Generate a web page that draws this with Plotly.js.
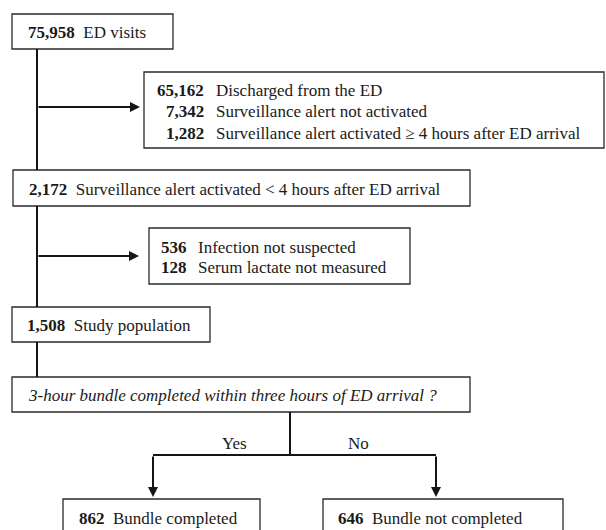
<!DOCTYPE html>
<html>
<head>
<meta charset="utf-8">
<script src="https://cdn.plot.ly/plotly-3.0.1.min.js"></script>
<style>html,body{margin:0;padding:0;background:#fff;}#chart{width:606px;height:530px;}</style>
</head>
<body>
<div id="chart"></div>
<script>
// ---- Data (text content of the flow diagram) ----
const stageCounts = ['75,958', '2,172', '1,508'];
const stageLabels = ['ED visits', 'Surveillance alert activated < 4 hours after ED arrival', 'Study population'];
const exclusion1Counts = ['65,162', '7,342', '1,282'];
const exclusion1Labels = ['Discharged from the ED', 'Surveillance alert not activated', 'Surveillance alert activated \u2265 4 hours after ED arrival'];
const exclusion2Counts = ['536', '128'];
const exclusion2Labels = ['Infection not suspected', 'Serum lactate not measured'];
const questionText = '3-hour bundle completed within three hours of ED arrival ?';
const branchLabels = ['Yes', 'No'];
const outcomeCounts = ['862', '646'];
const outcomeLabels = ['Bundle completed', 'Bundle not completed'];

// ---- Layout geometry (pixel-like coordinates, y downwards) ----
const FONT = {family: '"Liberation Serif", "Times New Roman", serif', size: 17, color: '#1a1a1a'};
const BOX_LINE = {color: '#2a2a2a', width: 1.3};
const CONN_LINE = {color: '#151515', width: 2};

const stageBoxes = [[12, 14, 173, 49], [13, 170, 470, 206], [12, 307, 210, 342]];
const stageTextPos = [[26, 32], [27, 189], [25, 325]];
const excl1Box = [144, 72, 604, 148];
const excl1NumRight = 206, excl1LabelLeft = 214, excl1Ys = [90, 111.5, 133];
const excl2Box = [149, 228, 410, 284];
const excl2NumRight = 189, excl2LabelLeft = 196, excl2Ys = [247, 267];
const questionBox = [12, 377, 470, 412];
const questionPos = [26, 395.5];
const outcomeBoxes = [[63, 499, 260, 545], [323, 499, 563, 545]];
const outcomeTextPos = [[77, 518], [336, 518]];
const branchPos = [[234, 443], [358, 443]];

const connectors = [
  [37, 49, 37, 170],
  [37, 206, 37, 307],
  [37, 342, 37, 377],
  [290, 412, 290, 455],
  [153, 455, 436, 455]
];
const arrows = [
  [37, 107, 140, 107],
  [37, 256, 139, 256],
  [153, 455, 153, 497],
  [436, 455, 436, 497]
];

const shapes = [];
const annotations = [];
function rect(b) {
  shapes.push({type: 'rect', xref: 'x', yref: 'y', x0: b[0], y0: b[1], x1: b[2], y1: b[3],
    line: BOX_LINE, fillcolor: 'rgba(0,0,0,0)'});
}
function txt(x, y, t, anchor) {
  annotations.push({x: x, y: y, xref: 'x', yref: 'y', text: t, showarrow: false,
    xanchor: anchor || 'left', yanchor: 'middle', font: FONT, align: 'left'});
}
const GAP = '\u00a0\u00a0';

stageBoxes.forEach(rect);
stageCounts.forEach((c, i) => txt(stageTextPos[i][0], stageTextPos[i][1], '<b>' + c + '</b>' + GAP + stageLabels[i]));

rect(excl1Box);
exclusion1Counts.forEach((c, i) => {
  txt(excl1NumRight, excl1Ys[i], '<b>' + c + '</b>', 'right');
  txt(excl1LabelLeft, excl1Ys[i], exclusion1Labels[i]);
});
rect(excl2Box);
exclusion2Counts.forEach((c, i) => {
  txt(excl2NumRight, excl2Ys[i], '<b>' + c + '</b>', 'right');
  txt(excl2LabelLeft, excl2Ys[i], exclusion2Labels[i]);
});

rect(questionBox);
txt(questionPos[0], questionPos[1], '<i>' + questionText + '</i>');

outcomeBoxes.forEach(rect);
outcomeCounts.forEach((c, i) => txt(outcomeTextPos[i][0], outcomeTextPos[i][1], '<b>' + c + '</b>' + GAP + outcomeLabels[i]));

branchLabels.forEach((b, i) => txt(branchPos[i][0], branchPos[i][1], b, 'center'));

connectors.forEach(c => shapes.push({type: 'line', xref: 'x', yref: 'y', x0: c[0], y0: c[1], x1: c[2], y1: c[3], line: CONN_LINE}));
arrows.forEach(a => annotations.push({
  x: a[2], y: a[3], ax: a[0], ay: a[1], xref: 'x', yref: 'y', axref: 'x', ayref: 'y',
  text: '', showarrow: true, arrowhead: 2, arrowsize: 1, arrowwidth: 2, arrowcolor: '#151515', standoff: 0
}));

const layout = {
  width: 606, height: 530,
  margin: {l: 0, r: 0, t: 0, b: 0},
  paper_bgcolor: '#ffffff', plot_bgcolor: '#ffffff',
  xaxis: {range: [0, 606], visible: false, fixedrange: true},
  yaxis: {range: [530, 0], visible: false, fixedrange: true},
  showlegend: false,
  shapes: shapes,
  annotations: annotations,
  font: FONT
};

Plotly.newPlot('chart', [], layout, {displayModeBar: false, staticPlot: true});
</script>
</body>
</html>
